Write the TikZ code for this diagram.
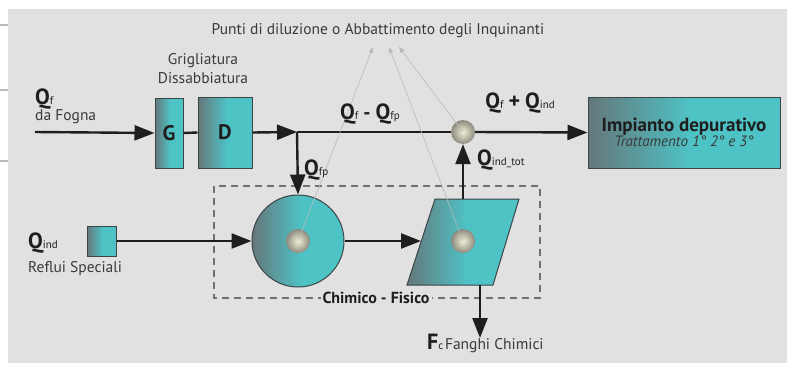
\documentclass[tikz,border=0pt]{standalone}
\usepackage{fontspec}
\setmainfont{PT Sans}
\usetikzlibrary{arrows.meta}
\definecolor{bg}{HTML}{E1E1E1}
\definecolor{tgray}{HTML}{65777A}
\definecolor{tteal}{HTML}{4EC3C6}
\definecolor{edgec}{HTML}{3C4446}
\definecolor{ink}{HTML}{1E1E1E}
\definecolor{txt}{HTML}{3A3A3A}
\definecolor{ballc}{HTML}{F2EFD6}
\definecolor{ballo}{HTML}{8C8A7E}
\pgfdeclarehorizontalshading{tealgrad}{100bp}{color(0bp)=(tgray); color(25bp)=(tgray); color(52bp)=(tteal); color(100bp)=(tteal)}
\newcommand{\QQ}[1]{{\fontsize{22}{22}\selectfont\bfseries Q}{\fontsize{11}{11}\selectfont #1}}
\begin{document}
\begin{tikzpicture}[x=1pt,y=-1pt,
  unit/.style={draw=edgec, line width=1pt, shading=tealgrad, inner sep=0pt},
  flow/.style={draw=ink, line width=2.4pt, -{Triangle[length=20pt,width=15pt]}},
  plain/.style={draw=ink, line width=2.4pt},
  ptr/.style={draw=gray!55, line width=0.6pt, -{Triangle[length=6pt,width=4.5pt]}},
  ball/.style={circle, minimum size=24pt, inner sep=0pt, inner color=ballc, outer color=ballo},
  lbl/.style={text=txt, font=\fontsize{15.5}{17}\selectfont, inner sep=0pt},
  qlbl/.style={text=ink, inner sep=0pt}]
\path[use as bounding box] (0,0) rectangle (787,369);
\fill[white] (0,0) rectangle (787,369);
\fill[bg] (8,9) rectangle (787,363);
\foreach \yy in {25,90,161} \draw[gray!55, line width=2pt] (0,\yy) -- (8,\yy);

% title
\node[lbl] (title) at (378,31) {Punti di diluzione o Abbattimento degli Inquinanti};
\coordinate (p1) at (373,47);
\coordinate (p2) at (389,47);
\coordinate (p3) at (399,47);

% dashed chemical-physical box
\draw[gray!40!black!70, line width=1.2pt, dash pattern=on 7pt off 5pt] (214,186) rectangle (540,298);
\node[fill=bg, inner sep=2pt, font=\fontsize{16}{18}\selectfont\bfseries, text=ink] (cf) at (376,298) {Chimico - Fisico};

% units
\node[unit, minimum width=28pt, minimum height=70pt] (G) at (169,133) {\fontsize{21}{21}\selectfont\bfseries\color{ink}G};
\node[unit, minimum width=54pt, minimum height=71pt] (D) at (225,132.5) {\fontsize{21}{21}\selectfont\bfseries\color{ink}D};
\node[unit, minimum width=192pt, minimum height=71pt, align=center] (imp) at (684,132.5)
  {{\fontsize{19}{21}\selectfont\bfseries\color{ink}Impianto depurativo}\\[0pt]{\fontsize{15}{17}\selectfont\itshape\color{txt}Trattamento 1° 2° e 3°}};
\node[unit, minimum width=29pt, minimum height=30pt] (sq) at (101.5,241) {};
\node[unit, circle, minimum size=92pt] (circ) at (298,241) {};
\shadedraw[shading=tealgrad, draw=edgec, line width=1pt] (407,285) coordinate (pbl) -- (435,199) coordinate (ptl) -- (519,199) coordinate (ptr) -- (493,285) coordinate (pbr) -- cycle;
\coordinate (pleft) at (421,241);
\coordinate (ptop) at (463,199);
\coordinate (pbot) at (480,285);
\node[ball] (b1) at (circ.center) {};
\node[ball] (b2) at (463,241) {};
\node[ball] (junc) at (463,132) {};

% flows
\coordinate (qin) at (35,132);
\coordinate (split) at (297,132);
\coordinate (fc) at (480,338);
\draw[flow] (qin) -- (G.west);
\draw[plain] (G.east) -- (D.west);
\draw[flow] (D.east) -- (split);
\draw[plain] (split) -- (junc.west);
\draw[flow] (split) -- (circ.north);
\draw[flow] (junc.east) -- (imp.west);
\draw[flow] (sq.east) -- (circ.west);
\draw[flow] (circ.east) -- (pleft);
\draw[flow] (ptop) -- (junc.south);
\draw[flow] (pbot) -- (fc);

% pointers
\draw[ptr] (b1.center) -- (p1);
\draw[ptr] (b2.center) -- (p2);
\draw[ptr] (junc.center) -- (p3);

% labels
\node[qlbl, anchor=west] (lqf) at (35,99) {\QQ{f}};
\node[lbl, anchor=west] (lfogna) at (35,117) {da Fogna};
\node[lbl] (lgr) at (203,61) {Grigliatura};
\node[lbl] (ldis) at (203,78) {Dissabbiatura};
\node[qlbl] (lqfqfp) at (370,114) {\QQ{f}\hspace{5pt}{\fontsize{20}{20}\selectfont\bfseries -}\hspace{5pt}\QQ{fp}};
\node[qlbl, anchor=west] (lqfp) at (304,170) {\QQ{fp}};
\node[qlbl] (lqsum) at (520,103) {\QQ{f}\hspace{5pt}{\fontsize{22}{22}\selectfont\bfseries +}\hspace{5pt}\QQ{ind}};
\node[qlbl, anchor=west] (lqtot) at (477,160) {\QQ{ind\_tot}};
\node[qlbl, anchor=west] (lfc) at (427,343) {{\fontsize{22}{22}\selectfont\bfseries F}{\fontsize{11}{11}\selectfont c}\,{\fontsize{15.5}{17}\selectfont\color{txt}Fanghi Chimici}};
\node[qlbl, anchor=west] (lqind) at (28,243) {\QQ{ind}};
\node[lbl, anchor=west] (lrefl) at (28,269) {Reflui Speciali};
\end{tikzpicture}
\end{document}
